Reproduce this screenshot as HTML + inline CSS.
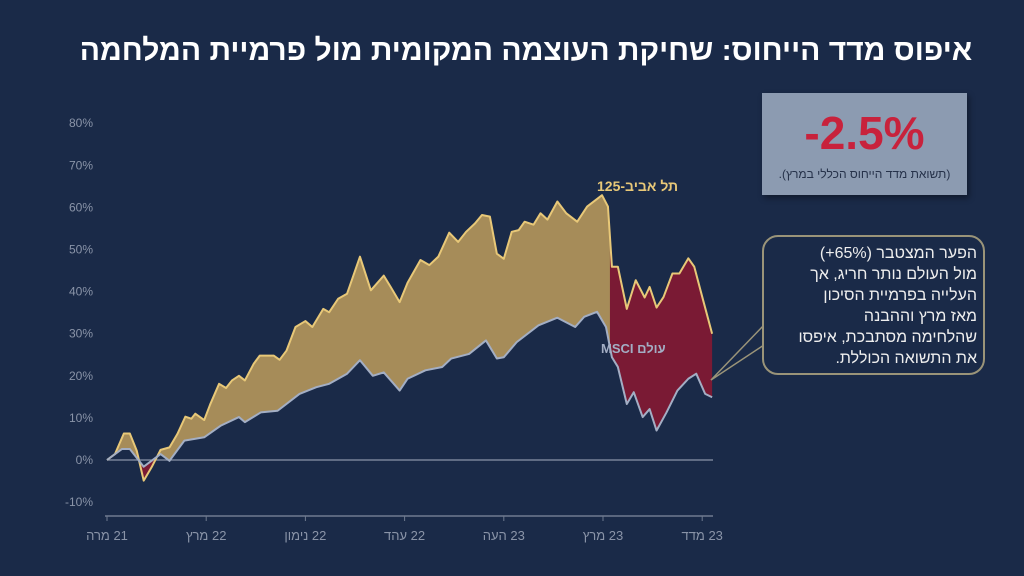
<!DOCTYPE html>
<html><head><meta charset="utf-8"><style>
body{margin:0;width:1024px;height:576px;background:#1a2a48;overflow:hidden;font-family:"Liberation Sans","Noto Sans CJK SC",sans-serif}
#title{position:absolute;left:14px;width:1024px;top:34px;text-align:center;color:#fff;font-weight:bold;font-size:30px;direction:rtl;font-family:"Liberation Sans","Noto Sans CJK JP",sans-serif}
#stat{position:absolute;left:762px;top:93px;width:205px;height:102px;background:#8c9bb1;box-shadow:2px 3px 6px rgba(0,0,0,.4);text-align:center}
#stat .v{color:#c8223c;font-weight:bold;font-size:46px;margin-top:14px;line-height:52px}
#stat .s{color:#26324a;font-size:12px;direction:rtl;margin-top:8px;font-family:"Liberation Sans","Noto Sans CJK JP",sans-serif}
#note{position:absolute;left:762px;top:235px;width:207px;height:126px;border:2px solid #9a9479;border-radius:16px;background:#1a2a48;color:#eee;font-size:16px;line-height:21px;direction:rtl;text-align:right;padding:6px 6px 4px 6px;box-sizing:content-box;font-family:"Liberation Sans","Noto Sans CJK JP",sans-serif;white-space:nowrap}
svg{position:absolute;left:0;top:0}
</style></head><body>
<div id="title">איפוס מדד הייחוס: שחיקת העוצמה המקומית מול פרמיית המלחמה</div>
<svg width="1024" height="576" id="chart"></svg>
<div id="stat"><div class="v">-2.5%</div><div class="s">(תשואת מדד הייחוס הכללי במרץ).</div></div>
<div id="note">הפער המצטבר <span dir="ltr">(+65%)</span><br>מול העולם נותר חריג, אך<br>העלייה בפרמיית הסיכון<br>מאז מרץ וההבנה<br>שהלחימה מסתבכת, איפסו<br>את התשואה הכוללת.</div>
<script>
const yTicks=[80,70,60,50,40,30,20,10,0,-10];
const xLabels=["21 מרה","22 מרץ","22 נימון","22 עהד","23 העה","23 מרץ","23 מדד"];
const taT=[0,0.08,0.17,0.23,0.3,0.37,0.45,0.54,0.63,0.71,0.79,0.85,0.89,0.98,1.04,1.13,1.20,1.26,1.33,1.39,1.48,1.54,1.68,1.74,1.81,1.90,2.00,2.07,2.18,2.24,2.33,2.42,2.55,2.66,2.79,2.86,2.95,3.03,3.16,3.25,3.34,3.45,3.54,3.62,3.71,3.78,3.86,3.93,4.00,4.08,4.15,4.21,4.30,4.37,4.44,4.54,4.63,4.74,4.84,4.99,5.05,5.09,5.15,5.24,5.33,5.42,5.47,5.54,5.61,5.70,5.77,5.86,5.92,6.01,6.10];
const taV=[0,1.4,6.3,6.3,2.2,-4.9,-1.7,2.4,3,6.2,10.3,9.8,11,9.5,13.2,18.1,17.1,18.9,20,18.9,22.9,24.8,24.8,23.8,26,31.6,33,31.6,35.9,35.1,38.3,39.5,48.3,40.3,43.8,41.1,37.5,42.1,47.5,46.3,48.3,54,51.8,54.2,56.2,58.2,57.8,49,47.8,54.2,54.6,56.6,55.9,58.6,57.1,61.4,58.6,56.6,60.2,62.9,60.2,45.9,45.9,35.9,42.7,38.6,41.1,36.2,38.7,44.3,44.3,47.9,45.9,37.9,30];
const msT=[0,0.15,0.23,0.37,0.54,0.63,0.78,0.98,1.15,1.33,1.39,1.55,1.72,1.94,2.11,2.24,2.42,2.55,2.68,2.79,2.95,3.03,3.21,3.38,3.47,3.65,3.82,3.93,4.00,4.13,4.35,4.54,4.72,4.81,4.94,5.03,5.09,5.15,5.24,5.31,5.40,5.47,5.54,5.64,5.75,5.86,5.94,6.03,6.10];
const msV=[0,2.6,2.6,-1.6,1.4,-0.2,4.6,5.4,8.2,10.2,9,11.3,11.7,15.7,17.3,18.1,20.5,23.7,20,20.8,16.5,19.3,21.3,22.1,24.1,25.2,28.4,24.1,24.4,28,32,33.8,31.6,34,35.2,31.6,24.4,22.1,13.3,16.1,10.2,12.1,7,11.3,16.5,19.3,20.5,15.7,14.9];
const splitT=5.07, dipA=0.3, dipB=0.5;
const X=t=>107+t*99.2, Y=v=>460-v*4.21;
const svg=document.getElementById('chart'),NS="http://www.w3.org/2000/svg";
function el(tag,a,p){const e=document.createElementNS(NS,tag);for(const k in a)e.setAttribute(k,a[k]);(p||svg).appendChild(e);return e;}
yTicks.forEach(v=>{const t=el('text',{x:93,y:Y(v)+4,fill:'#8a94a8','font-size':12,'text-anchor':'end'});t.textContent=v+'%';

});
el('line',{x1:105,x2:713,y1:516,y2:516,stroke:'#6f7a90','stroke-width':1.5});
xLabels.forEach((l,i)=>{const x=X(i);el('line',{x1:x,x2:x,y1:516,y2:521,stroke:'#6f7a90'});
const t=el('text',{x:x,y:540,fill:'#8a94a8','font-size':13,'text-anchor':'middle',direction:'rtl'});t.textContent=l;

});
el('line',{x1:X(0),x2:713,y1:Y(0),y2:Y(0),stroke:'#8a94a8','stroke-width':1.2});
const taP=taT.map((t,i)=>X(t)+','+Y(taV[i]));
const msP=msT.map((t,i)=>X(t)+','+Y(msV[i]));
const area=taP.concat(msP.slice().reverse()).join(' ');
const defs=el('defs',{});
const c1=el('clipPath',{id:'cg'},defs);el('rect',{x:0,y:0,width:X(splitT),height:576},c1);
const c2=el('clipPath',{id:'cr'},defs);el('rect',{x:X(splitT),y:0,width:400,height:576},c2);el('rect',{x:X(dipA),y:0,width:X(dipB)-X(dipA),height:576},c2);
const g=el('polygon',{points:area,fill:'#a68c59','clip-path':'url(#cg)'});


const r=el('polygon',{points:area,fill:'#7a1a34','clip-path':'url(#cr)'});


const l1=el('polyline',{points:taP.join(' '),fill:'none',stroke:'#e8c878','stroke-width':2,'stroke-linejoin':'round'});


const l2=el('polyline',{points:msP.join(' '),fill:'none',stroke:'#a3aec4','stroke-width':2,'stroke-linejoin':'round'});


const a=el('text',{x:597,y:191,fill:'#e8c878','font-size':14,'font-weight':'bold','text-anchor':'end',direction:'rtl'});a.textContent='תל אביב-125';


const b=el('text',{x:601,y:353,fill:'#a3aec4','font-size':13,'font-weight':'bold','text-anchor':'end',direction:'rtl'});b.textContent='עולם MSCI';


const p=el('polyline',{points:'764,325 711,380 764,345',fill:'none',stroke:'#9a9479','stroke-width':1.5});


</script>
</body></html>
